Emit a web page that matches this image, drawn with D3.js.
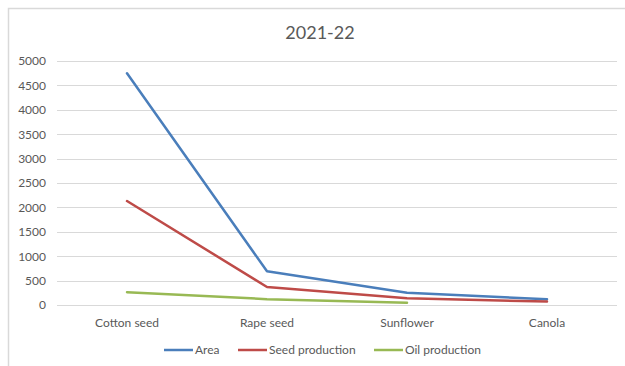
<!DOCTYPE html>
<html>
<head>
<meta charset="utf-8">
<script src="https://cdn.jsdelivr.net/npm/d3@7"></script>
<style>
  html, body { margin: 0; padding: 0; background: #fff; }
  svg text { font-family: Lato, "Open Sans", sans-serif; fill: #595959; }
</style>
</head>
<body>
<svg id="chart" width="625" height="366"></svg>
<script>
const title = "2021-22";
const categories = ["Cotton seed", "Rape seed", "Sunflower", "Canola"];
const yTicks = [0, 500, 1000, 1500, 2000, 2500, 3000, 3500, 4000, 4500, 5000];
const areaValues = [4750, 690, 250, 120];
const seedValues = [2130, 370, 140, 70];
const oilValues = [260, 120, 45];
const seriesNames = ["Area", "Seed production", "Oil production"];
const seriesColors = ["#4a7ebb", "#be4b48", "#98b954"];

const series = [
  { name: seriesNames[0], color: seriesColors[0], values: areaValues },
  { name: seriesNames[1], color: seriesColors[1], values: seedValues },
  { name: seriesNames[2], color: seriesColors[2], values: oilValues }
];

const svg = d3.select("#chart");
const plot = { left: 57, right: 617, top: 61, bottom: 305 };
const font = "Lato, 'Open Sans', sans-serif";

// chart frame
svg.append("path")
  .attr("d", "M8.5,366 L8.5,8.5 L625,8.5")
  .attr("fill", "none").attr("stroke", "#d9d9d9").attr("stroke-width", 1.5);

svg.append("text")
  .attr("x", 320).attr("y", 39)
  .attr("text-anchor", "middle")
  .style("font-size", "18px")
  .text(title);

const x = d3.scaleBand().domain(categories).range([plot.left, plot.right]);
const y = d3.scaleLinear().domain([0, 5000]).range([plot.bottom, plot.top]);

// gridlines
svg.append("g").selectAll("line").data(yTicks).join("line")
  .attr("x1", plot.left).attr("x2", plot.right)
  .attr("y1", d => Math.round(y(d)) + 0.5).attr("y2", d => Math.round(y(d)) + 0.5)
  .attr("stroke", "#d9d9d9").attr("stroke-width", 1);

// y axis labels
const yAxis = d3.axisLeft(y).tickValues(yTicks).tickFormat(d3.format("d")).tickSize(0).tickPadding(0);
const yg = svg.append("g").attr("transform", `translate(${plot.left - 11},0)`).call(yAxis);
yg.select(".domain").remove();
yg.selectAll("text").style("font-size", "12px").attr("fill", "#595959")
  .style("font-family", font);

// x axis labels
const xAxis = d3.axisBottom(x).tickSize(0).tickPadding(0);
const xg = svg.append("g").attr("transform", `translate(0,${plot.bottom + 13})`).call(xAxis);
xg.select(".domain").remove();
xg.selectAll("text").style("font-size", "12px").attr("fill", "#595959")
  .style("font-family", font);

// lines
const line = d3.line()
  .x((d, i) => x(categories[i]) + x.bandwidth() / 2)
  .y(d => y(d));

svg.append("g").selectAll("path").data(series).join("path")
  .attr("d", d => line(d.values))
  .attr("fill", "none")
  .attr("stroke", d => d.color)
  .attr("stroke-width", 2.5)
  .attr("stroke-linejoin", "round")
  .attr("stroke-linecap", "round");

// legend
const legendX = [164, 238, 374];
const lg = svg.append("g").selectAll("g").data(series).join("g")
  .attr("transform", (d, i) => `translate(${legendX[i]},350)`);
lg.append("line").attr("x1", 0).attr("x2", 29).attr("y1", 0).attr("y2", 0)
  .attr("stroke", d => d.color).attr("stroke-width", 2.5);
lg.append("text").attr("x", 31).attr("y", 4)
  .style("font-size", "12px").text(d => d.name);
</script>
</body>
</html>
